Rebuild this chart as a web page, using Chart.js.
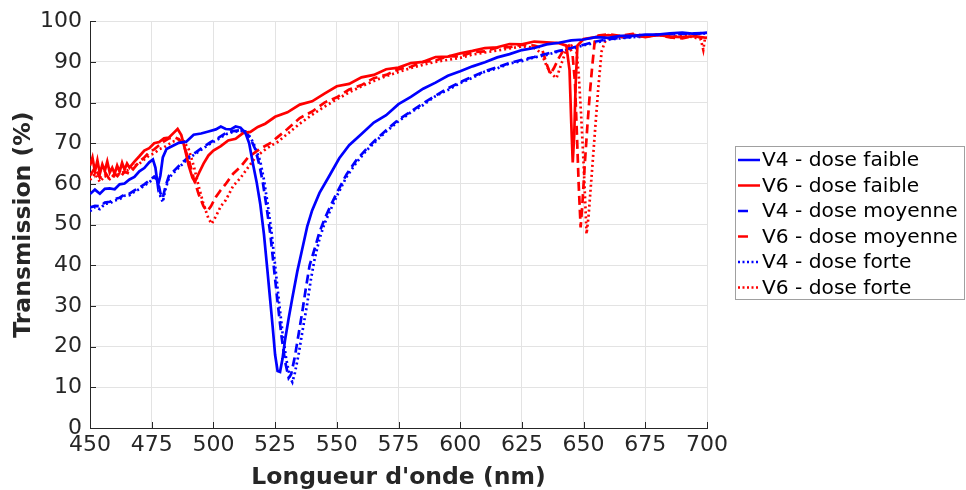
<!DOCTYPE html>
<html>
<head>
<meta charset="utf-8">
<script src="https://cdn.jsdelivr.net/npm/chart.js@4.4.0/dist/chart.umd.min.js"></script>
<style>
  html, body { margin: 0; padding: 0; background: #fff; }
  #wrap { width: 966px; height: 490px; }
</style>
</head>
<body>
<div id="wrap"><canvas id="spectra" width="966" height="490"></canvas></div>
<script>
// --- Data (wavelength in nm, transmission in %) ---
const xTicks = [450, 475, 500, 525, 550, 575, 600, 625, 650, 675, 700];
const yTicks = [0, 10, 20, 30, 40, 50, 60, 70, 80, 90, 100];

const labels = ["V4 - dose faible", "V6 - dose faible", "V4 - dose moyenne", "V6 - dose moyenne", "V4 - dose forte", "V6 - dose forte"];

const v4FaibleX = [450, 452, 454, 456, 458, 460, 462, 464, 466, 468, 470, 472, 474, 475.5, 476.5, 477.5, 478.5, 479.5, 481, 483, 486, 489, 492, 495, 498, 501, 503, 505, 507, 509, 511, 513, 514.5, 516, 517.5, 519, 520.5, 522, 523, 524, 525, 526, 527, 528, 529, 530.5, 532, 534, 536, 538, 540, 543, 547, 551, 555, 560, 565, 570, 575, 580, 585, 590, 595, 600, 605, 610, 615, 620, 625, 630, 635, 640, 645, 650, 655, 660, 665, 670, 675, 680, 685, 690, 695, 700];
const v4FaibleY = [57.5, 58.6, 57.6, 58.8, 58.9, 58.7, 59.9, 60.1, 61.1, 61.7, 63.1, 63.9, 65.3, 66.0, 64.0, 59.5, 62.0, 66.5, 68.6, 69.2, 70.1, 70.4, 72.1, 72.4, 72.9, 73.4, 74.1, 73.5, 73.4, 74.1, 73.8, 72.5, 70.0, 65.0, 60.5, 55.0, 47.5, 38.0, 31.5, 25.0, 18.0, 14.0, 13.8, 17.0, 21.5, 27.0, 32.0, 38.5, 44.0, 49.5, 53.5, 57.8, 62.0, 66.3, 69.5, 72.3, 75.1, 76.9, 79.6, 81.4, 83.4, 84.9, 86.6, 87.7, 88.9, 89.9, 91.1, 91.9, 92.9, 93.4, 94.3, 94.7, 95.3, 95.5, 96.1, 95.9, 96.4, 96.4, 96.7, 96.7, 97.0, 97.2, 96.9, 97.2];

const v6FaibleX = [450, 451, 452, 453, 454, 455, 456, 457, 458, 459, 460, 461, 462, 463, 464, 465, 466, 468, 470, 472, 474, 476, 478, 480, 482, 484, 485.5, 487, 488.5, 490, 491.5, 492.5, 494, 496, 498, 500, 503, 506, 509, 512, 515, 518, 521, 525, 530, 535, 540, 545, 550, 555, 560, 565, 570, 575, 580, 585, 590, 595, 600, 605, 610, 615, 620, 625, 630, 635, 640, 643, 644.3, 645, 645.6, 646.2, 646.8, 647.5, 650, 655, 660, 665, 670, 675, 680, 685, 690, 695, 700];
const v6FaibleY = [64.5, 66.5, 63.0, 65.8, 62.5, 64.8, 63.2, 65.5, 62.8, 64.0, 62.5, 64.5, 63.0, 65.2, 63.5, 65.0, 64.0, 65.5, 66.8, 68.2, 68.8, 70.0, 70.3, 71.2, 71.4, 72.6, 73.5, 72.0, 68.5, 64.5, 61.5, 60.5, 62.5, 65.0, 67.0, 68.2, 69.3, 70.7, 71.1, 72.5, 72.8, 74.0, 74.8, 76.5, 77.6, 79.5, 80.3, 82.2, 84.0, 84.6, 86.2, 86.8, 88.2, 88.6, 89.7, 90.0, 91.2, 91.3, 92.1, 92.7, 93.4, 93.6, 94.4, 94.3, 95.0, 94.8, 94.6, 94.0, 88.0, 75.0, 65.3, 72.0, 85.0, 94.0, 95.6, 96.1, 96.6, 96.2, 96.7, 96.1, 96.6, 96.2, 96.1, 96.3, 95.9];

const v4MoyenneX = [450, 452, 454, 456, 458, 460, 462, 464, 466, 468, 470, 472, 474, 476, 477.5, 478.5, 479.5, 480.5, 482, 484, 486, 488, 490, 493, 496, 499, 502, 505, 508, 511, 513, 515, 517, 518.5, 520, 521.5, 523, 524.5, 526, 527.5, 529, 530.5, 531.5, 533, 534.5, 536, 537.5, 539, 541, 543, 545, 547, 550, 554, 558, 562, 566, 570, 575, 580, 585, 590, 595, 600, 605, 610, 615, 620, 625, 630, 635, 640, 645, 650, 655, 660, 665, 670, 675, 680, 685, 690, 695, 700];
const v4MoyenneY = [54.2, 54.6, 54.5, 55.4, 55.6, 56.3, 56.6, 57.4, 57.6, 58.4, 59.1, 59.9, 60.8, 61.8, 60.8, 57.8, 56.5, 59.2, 62.0, 63.2, 64.4, 65.6, 66.6, 67.8, 69.1, 70.3, 71.3, 72.5, 73.0, 73.2, 72.9, 71.2, 68.5, 65.0, 60.5, 54.5, 48.0, 39.5, 31.0, 23.0, 16.5, 12.3, 13.2, 17.5, 23.0, 28.5, 34.5, 40.0, 44.0, 48.2, 51.3, 54.0, 57.8, 62.4, 65.9, 68.6, 71.0, 73.2, 75.8, 77.8, 79.8, 81.7, 83.5, 85.0, 86.4, 87.7, 88.7, 89.7, 90.5, 91.2, 92.0, 92.7, 93.4, 94.2, 95.0, 95.6, 95.9, 96.2, 96.4, 96.6, 96.8, 96.9, 97.0, 97.1];

const v6MoyenneX = [450, 452, 454, 456, 458, 460, 462, 464, 466, 468, 470, 472, 474, 476, 478, 480, 482, 484, 486, 488, 490, 492, 494, 496, 497.5, 499, 501, 503, 505, 508, 511, 514, 517, 520, 523, 526, 530, 535, 540, 545, 550, 555, 560, 565, 570, 575, 580, 585, 590, 595, 600, 605, 610, 615, 620, 625, 630, 633, 635, 636.5, 638, 640, 642, 644, 645.5, 646.5, 647.3, 648, 648.8, 649.5, 650.5, 651.5, 652.5, 653.5, 654.5, 656, 660, 665, 670, 675, 680, 685, 690, 695, 700];
const v6MoyenneY = [62.0, 64.0, 61.5, 63.0, 61.0, 62.5, 61.5, 63.0, 62.5, 64.0, 65.5, 66.5, 67.8, 68.5, 69.5, 70.5, 71.2, 71.5, 71.0, 69.5, 66.0, 61.5, 57.5, 54.5, 53.3, 54.5, 56.8, 58.5, 60.0, 62.5, 64.2, 66.5, 67.8, 69.0, 70.0, 71.5, 73.5, 76.2, 77.8, 80.0, 81.3, 83.2, 84.3, 86.0, 86.8, 88.2, 88.8, 90.0, 90.3, 91.4, 91.3, 92.4, 92.6, 93.5, 93.6, 94.2, 94.0, 93.5, 89.5, 87.0, 88.5, 91.0, 93.0, 94.0, 92.0, 85.0, 72.0, 60.0, 49.3, 55.0, 65.0, 74.0, 82.0, 89.0, 95.0, 96.5, 96.8, 96.4, 96.9, 96.3, 96.7, 96.0, 95.8, 96.4, 95.5];

const v4ForteX = [450, 452, 454, 456, 458, 460, 462, 464, 466, 468, 470, 472, 474, 476, 477.5, 478.5, 479.5, 480.5, 482, 484, 486, 488, 490, 493, 496, 499, 502, 505, 508, 511, 513, 515, 517, 519, 520.5, 522, 523.5, 525, 526.5, 528, 529.5, 531, 532, 533, 534.5, 536, 538, 539.5, 541, 543, 545, 547, 550, 554, 558, 562, 566, 570, 575, 580, 585, 590, 595, 600, 605, 610, 615, 620, 625, 630, 635, 640, 645, 650, 655, 660, 665, 670, 675, 680, 685, 690, 695, 700];
const v4ForteY = [53.3, 54.3, 53.8, 55.1, 55.2, 55.9, 56.2, 57.1, 57.2, 58.1, 58.7, 59.6, 60.4, 61.5, 60.5, 57.0, 55.5, 58.5, 61.5, 62.8, 64.0, 65.2, 66.3, 67.5, 68.8, 70.0, 71.0, 72.2, 72.8, 73.0, 72.8, 71.5, 69.0, 65.5, 61.0, 55.0, 48.5, 40.0, 31.5, 23.5, 17.0, 12.5, 11.3, 13.5, 18.0, 23.5, 30.5, 36.5, 41.5, 46.5, 50.2, 53.0, 57.0, 61.8, 65.3, 68.2, 70.6, 72.9, 75.4, 77.6, 79.4, 81.6, 83.1, 84.8, 86.1, 87.6, 88.4, 89.6, 90.2, 91.1, 91.7, 92.6, 93.1, 94.1, 94.7, 95.5, 95.8, 96.1, 96.2, 96.7, 96.6, 96.9, 96.8, 97.0];

const v6ForteX = [450, 452, 454, 456, 458, 460, 462, 464, 466, 468, 470, 472, 474, 476, 478, 480, 482, 484, 486, 488, 490, 492, 494, 496, 498, 499.3, 501, 503, 505, 508, 511, 514, 517, 520, 523, 526, 530, 535, 540, 545, 550, 555, 560, 565, 570, 575, 580, 585, 590, 595, 600, 605, 610, 615, 620, 625, 630, 633, 635, 637, 639, 641, 643, 645, 647, 648, 649, 650, 651.2, 652, 653, 654, 655, 656, 657.3, 659, 662, 665, 670, 675, 680, 685, 690, 695, 697.5, 698.5, 699.2, 700];
const v6ForteY = [61.0, 62.5, 60.5, 62.0, 61.2, 62.0, 62.5, 63.0, 63.5, 64.5, 65.0, 66.0, 67.0, 67.5, 68.5, 69.0, 69.8, 70.5, 70.8, 70.5, 68.5, 64.5, 59.5, 55.0, 51.5, 50.2, 52.0, 54.5, 56.0, 59.5, 61.5, 64.0, 66.5, 68.0, 69.3, 70.3, 72.3, 74.8, 77.0, 79.0, 80.8, 82.5, 84.0, 85.3, 86.5, 87.5, 88.5, 89.3, 90.0, 90.5, 91.0, 91.8, 92.3, 92.8, 93.3, 93.8, 93.5, 92.0, 89.0, 87.0, 86.0, 89.5, 93.0, 94.0, 93.5, 87.0, 77.0, 65.0, 47.7, 52.0, 60.0, 68.0, 76.0, 84.0, 92.6, 95.5, 96.5, 96.0, 96.6, 96.2, 96.8, 96.0, 96.5, 96.0, 95.5, 93.0, 95.8, 96.0];

// --- Helpers ---
const toPoints = (xs, ys) => xs.map((x, i) => ({ x, y: ys[i] }));
const blue = "#0000ff";
const red = "#ff0000";
const axisColor = "#262626";
const fontFamily = "'DejaVu Sans', sans-serif";

function series(label, xs, ys, color, dash) {
	return {
		label,
		data: toPoints(xs, ys),
		borderColor: color,
		backgroundColor: color,
		borderWidth: 2.7,
		borderDash: dash,
		pointRadius: 0,
		showLine: true,
		tension: 0,
	};
}

const dashed = [9, 5];
const dotted = [2, 3];

const datasets = [
	series(labels[0], v4FaibleX, v4FaibleY, blue, []),
	series(labels[1], v6FaibleX, v6FaibleY, red, []),
	series(labels[2], v4MoyenneX, v4MoyenneY, blue, dashed),
	series(labels[3], v6MoyenneX, v6MoyenneY, red, dashed),
	series(labels[4], v4ForteX, v4ForteY, blue, dotted),
	series(labels[5], v6ForteX, v6ForteY, red, dotted),
];

// inward tick marks, like the original figure
const innerTicks = {
	id: "innerTicks",
	afterDatasetsDraw(chart) {
		const { ctx, scales: { x, y } } = chart;
		ctx.save();
		ctx.strokeStyle = axisColor;
		ctx.lineWidth = 1;
		xTicks.forEach((v) => {
			const px = Math.round(x.getPixelForValue(v)) + 0.5;
			ctx.beginPath();
			ctx.moveTo(px, y.bottom);
			ctx.lineTo(px, y.bottom - 6);
			ctx.stroke();
		});
		yTicks.forEach((v) => {
			const py = Math.round(y.getPixelForValue(v)) + 0.5;
			ctx.beginPath();
			ctx.moveTo(x.left, py);
			ctx.lineTo(x.left + 6, py);
			ctx.stroke();
		});
		ctx.restore();
	},
};

// boxed legend on the right
const legendBox = {
	id: "legendBox",
	afterDraw(chart) {
		const ctx = chart.ctx;
		const left = 735.5, top = 146.5, w = 229, h = 153;
		ctx.save();
		ctx.fillStyle = "#fff";
		ctx.fillRect(left, top, w, h);
		ctx.strokeStyle = "#a0a0a0";
		ctx.lineWidth = 1;
		ctx.strokeRect(left, top, w, h);
		ctx.font = "20.2px " + fontFamily;
		ctx.textBaseline = "middle";
		ctx.textAlign = "left";
		chart.data.datasets.forEach((ds, i) => {
			const yy = 160 + i * 25.5;
			ctx.strokeStyle = ds.borderColor;
			ctx.lineWidth = 2.5;
			const d = ds.borderDash.length === 0 ? [] : ds.borderDash === dashed ? [10, 14] : [2, 2.5];
			ctx.setLineDash(d);
			ctx.beginPath();
			ctx.moveTo(738, yy);
			ctx.lineTo(760, yy);
			ctx.stroke();
			ctx.setLineDash([]);
			ctx.fillStyle = "#000";
			ctx.fillText(ds.label, 762, yy + 1);
		});
		ctx.restore();
	},
};

new Chart(document.getElementById("spectra"), {
	type: "scatter",
	data: { datasets },
	options: {
		responsive: false,
		animation: false,
		layout: { padding: { top: 20, right: 259, left: 0, bottom: 0 } },
		plugins: { legend: { display: false }, tooltip: { enabled: false } },
		scales: {
			x: {
				type: "linear",
				min: 450,
				max: 700,
				afterBuildTicks: (s) => { s.ticks = xTicks.map((v) => ({ value: v })); },
				afterFit: (s) => { s.height = 62; },
				ticks: { color: axisColor, font: { family: fontFamily, size: 22 }, padding: 4, maxRotation: 0 },
				grid: { color: "#e3e3e3", drawTicks: false },
				border: { color: axisColor, width: 1 },
				title: {
					display: true,
					text: "Longueur d'onde (nm)",
					color: axisColor,
					font: { family: fontFamily, size: 23.5, weight: "bold" },
					padding: { top: 0, bottom: -2 },
				},
			},
			y: {
				min: 0,
				max: 100,
				afterBuildTicks: (s) => { s.ticks = yTicks.map((v) => ({ value: v })); },
				afterFit: (s) => { s.width = 90; },
				ticks: { color: axisColor, font: { family: fontFamily, size: 22 }, padding: 8 },
				grid: { color: "#e3e3e3", drawTicks: false },
				border: { color: axisColor, width: 1 },
				title: {
					display: true,
					text: "Transmission (%)",
					color: axisColor,
					font: { family: fontFamily, size: 23.5, weight: "bold" },
					padding: { top: 10, bottom: 0 },
				},
			},
		},
	},
	plugins: [innerTicks, legendBox],
});
</script>
</body>
</html>
